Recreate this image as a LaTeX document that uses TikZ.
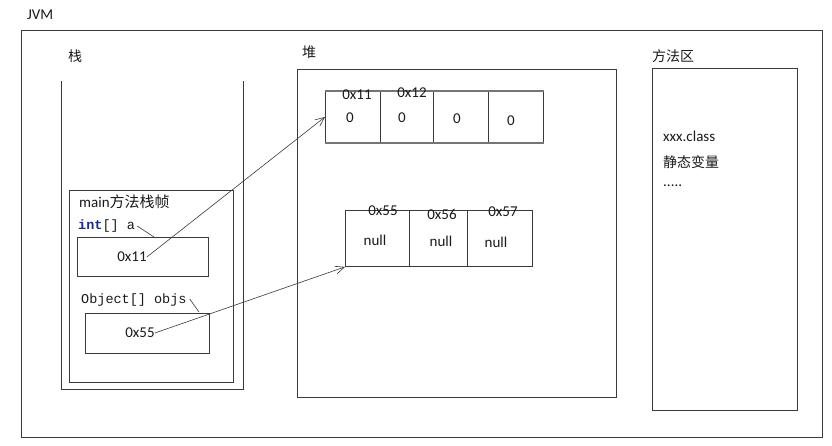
\documentclass[tikz,border=0pt]{standalone}
\usepackage{fontspec}
\setmainfont{Carlito}
\setmonofont{Liberation Mono}
\newfontfamily\cjk{Noto Sans CJK SC}
\usetikzlibrary{arrows.meta}
\definecolor{ln}{HTML}{3A3A3A}
\definecolor{tx}{HTML}{1A1A1A}
\definecolor{kw}{HTML}{1C2A8C}
\begin{document}
\begin{tikzpicture}[x=1pt,y=-1pt,
  box/.style={draw=ln, line width=0.9pt, anchor=north west, inner sep=0pt},
  lbl/.style={anchor=west, inner sep=0pt, text=tx, font=\fontsize{15}{15}\selectfont},
  clbl/.style={anchor=west, inner sep=0pt, text=tx, font=\fontsize{14}{14}\selectfont\cjk},
  code/.style={anchor=west, inner sep=0pt, text=tx, font=\fontsize{13.5}{13.5}\selectfont\ttfamily},
  val/.style={inner sep=0pt, text=tx, font=\fontsize{15}{15}\selectfont},
  cell/.style={draw=ln, line width=0.9pt, anchor=north west, inner sep=0pt},
  ptr/.style={draw=ln, line width=0.6pt, -{Straight Barb[length=9pt,width=8pt,line width=0.6pt]}},
  tick/.style={draw=ln, line width=0.6pt}]
\useasboundingbox (0,0) rectangle (832,446);
\fill[white] (0,0) rectangle (832,446);

% JVM
\node[lbl] (tjvm) at (27,15) {JVM};
\node[box, minimum width=801pt, minimum height=407pt] (jvm) at (21,30) {};

% stack
\node[clbl] (tstack) at (68,56) {栈};
\coordinate (s1) at (61,81);
\coordinate (s2) at (61,389);
\coordinate (s3) at (243,389);
\coordinate (s4) at (243,81);
\draw[ln, line width=0.9pt] (s1) -- (s2) -- (s3) -- (s4);
\node[box, minimum width=164pt, minimum height=192pt] (frame) at (69,190) {};
\node[lbl] (tframe) at (79,202) {main{\cjk 方法栈帧}};
\node[code] (la) at (78,226) {{\bfseries\color{kw}int}[] a};
\node[box, minimum width=131pt, minimum height=39pt] (ba) at (77,237) {};
\node[val] (v11) at (132,257) {0x11};
\node[code] (lo) at (81,300) {Object[] objs};
\node[box, minimum width=124pt, minimum height=40pt] (bo) at (85,313) {};
\node[val] (v55) at (140,333) {0x55};
\coordinate (ta) at (154,237);
\coordinate (to) at (199,312);
\draw[tick] ([xshift=2pt]la.east) -- (ta);
\draw[tick] ([xshift=3pt,yshift=1pt]lo.east) -- (to);

% heap
\node[clbl] (theap) at (302,52) {堆};
\node[box, minimum width=319pt, minimum height=328pt] (heap) at (297,69) {};
\node[cell, minimum width=55pt, minimum height=51pt] (c1) at (325,91) {};
\node[cell, minimum width=53pt, minimum height=51pt] (c2) at (380,91) {};
\node[cell, minimum width=55pt, minimum height=51pt] (c3) at (433,91) {};
\node[cell, minimum width=55pt, minimum height=51pt] (c4) at (488,91) {};
\draw[ln!70, line width=2pt] (c1.north west) -- (c4.north east);
\draw[ln!70, line width=2pt] (c1.south west) -- (c4.south east);
\node[val] (a1) at (357,95) {0x11};
\node[val] (a2) at (412,93) {0x12};
\node[val] (z1) at (350,118) {0};
\node[val] (z2) at (402,118) {0};
\node[val] (z3) at (457,119) {0};
\node[val] (z4) at (511,121) {0};

\node[cell, minimum width=64pt, minimum height=56pt] (n1) at (345,210) {};
\node[cell, minimum width=58pt, minimum height=56pt] (n2) at (409,210) {};
\node[cell, minimum width=65pt, minimum height=56pt] (n3) at (467,210) {};
\node[val] (b1) at (383,211) {0x55};
\node[val] (b2) at (442,214) {0x56};
\node[val] (b3) at (503,212) {0x57};
\node[val] (u1) at (375,240) {null};
\node[val] (u2) at (441,241) {null};
\node[val] (u3) at (496,242) {null};

% method area
\node[clbl] (tmeth) at (652,56) {方法区};
\node[box, minimum width=145pt, minimum height=342pt] (meth) at (652,68) {};
\node[lbl] (m1) at (663,136) {xxx.class};
\node[clbl] (m2) at (663,162) {静态变量};
\node[lbl] (m3) at (663,186) {.....};

% pointers
\draw[ptr] (v11.east) -- (c1.west);
\draw[ptr] (v55.east) -- (n1.south west);
\end{tikzpicture}
\end{document}
